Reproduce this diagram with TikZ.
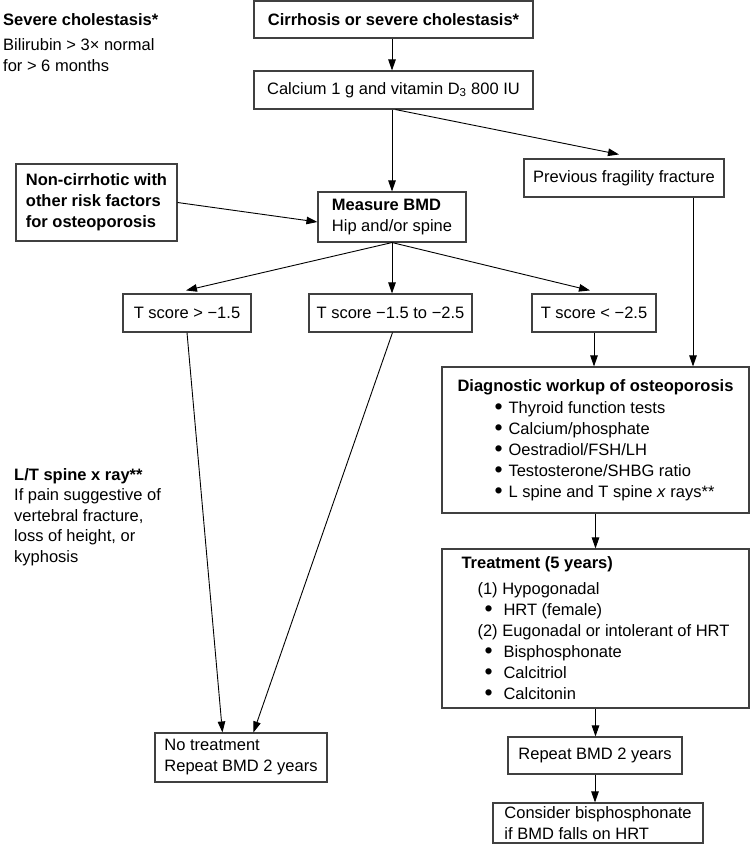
\documentclass[tikz,border=0pt]{standalone}
\usepackage{fontspec}
\setmainfont{Liberation Sans}
\usetikzlibrary{arrows.meta,calc}
\newcommand\bigdot{\raisebox{-1.6bp}{\fontsize{23bp}{21bp}\selectfont\textbullet}}
\newcommand\dbul{\hspace*{37bp}\makebox[14bp][l]{\bigdot}}
\newcommand\tbul{\hspace*{23bp}\makebox[19bp][l]{\bigdot}}
\begin{document}
\begin{tikzpicture}[x=1bp,y=-1bp,
  every node/.style={font=\fontsize{16.5bp}{21bp}\selectfont},
  box/.style={draw=black!75, line width=1.1bp, align=left, inner sep=0pt},
  link/.style={line width=0.9bp, -{Triangle[length=11bp,width=7.5bp]}},
  note/.style={align=left, inner sep=0pt, anchor=north west}]
\useasboundingbox (0,0) rectangle (750,853);

% boxes
\node[box, minimum width=279bp, minimum height=37bp] (cirr) at (393.5,19.5) {\textbf{Cirrhosis or severe cholestasis*}};
\node[box, minimum width=279bp, minimum height=38bp] (calc) at (393.5,90) {Calcium 1 g and vitamin D\textsubscript{3} 800 IU};
\node[box, minimum width=161bp, minimum height=77bp] (noncirr) at (96.5,202.5) {\textbf{Non-cirrhotic with}\\\textbf{other risk factors}\\\textbf{for osteoporosis}};
\node[box, minimum width=148bp, minimum height=50bp] (meas) at (392,217) {\textbf{Measure BMD}\\Hip and/or spine};
\node[box, minimum width=200bp, minimum height=38bp] (prev) at (624,178) {Previous fragility fracture};
\node[box, minimum width=128bp, minimum height=38bp] (t1) at (187,313) {T score > −1.5};
\node[box, minimum width=163bp, minimum height=38bp] (t2) at (390.5,313) {T score −1.5 to −2.5};
\node[box, minimum width=124bp, minimum height=38bp] (t3) at (594,313) {T score < −2.5};
\node[box, minimum width=307bp, minimum height=146bp] (diag) at (595.5,440) {\textbf{Diagnostic workup of osteoporosis}\\[1bp]
\dbul Thyroid function tests\\
\dbul Calcium/phosphate\\
\dbul Oestradiol/FSH/LH\\
\dbul Testosterone/SHBG ratio\\
\dbul L spine and T spine \textit{x} rays**};
\node[box, minimum width=307bp, minimum height=159bp] (treat) at (595.5,628.5) {\textbf{Treatment (5 years)}\\[5bp]
\hspace*{16bp}(1) Hypogonadal\\
\tbul HRT (female)\\
\hspace*{16bp}(2) Eugonadal or intolerant of HRT\\
\tbul Bisphosphonate\\
\tbul Calcitriol\\
\tbul Calcitonin};
\node[box, minimum width=172bp, minimum height=49bp] (notreat) at (241,757.5) {No treatment\\Repeat BMD 2 years};
\node[box, minimum width=174bp, minimum height=37bp] (rep) at (595,755.5) {Repeat BMD 2 years};
\node[box, minimum width=210bp, minimum height=40bp] (cons) at (598,823) {Consider bisphosphonate\\if BMD falls on HRT};

% free notes
\node[note] (sev) at (3,13) {\textbf{Severe cholestasis*}\\[4bp]Bilirubin > 3× normal\\for > 6 months};
\node[note, font=\fontsize{16.5bp}{20.5bp}\selectfont] (lt) at (14,468) {\textbf{L/T spine x ray**}\\If pain suggestive of\\vertebral fracture,\\loss of height, or\\kyphosis};

% connectors
\draw[link] (cirr.south -| meas.north) -- (calc.north -| meas.north);
\draw[link] (calc.south -| meas.north) -- (meas.north);
\draw[link] ($(calc.south)+(2,0)$) -- ($(prev.north)+(-5,-4)$);
\draw[link] (noncirr.east) -- ($(meas.west)+(0,5)$);
\draw[link] (meas.south) -- ($(t1.north)+(-1,-3)$);
\draw[link] (meas.south) -- (meas.south |- t2.north);
\draw[link] (meas.south) -- ($(t3.north)+(-4,-3)$);
\draw[link] (t1.south) -- ($(notreat.north west)+(68,0)$);
\draw[link] ($(t2.south)+(2,0)$) -- ($(notreat.north west)+(99,0)$);
\draw[link] (t3.south) -- (t3.south |- diag.north);
\coordinate (pd) at ($(prev.south)+(69,0)$);
\draw[link] (pd) -- (pd |- diag.north);
\draw[link] (diag.south) -- (treat.north);
\draw[link] (treat.south) -- (treat.south |- rep.north);
\draw[link] (rep.south) -- (rep.south |- cons.north);
\end{tikzpicture}
\end{document}
